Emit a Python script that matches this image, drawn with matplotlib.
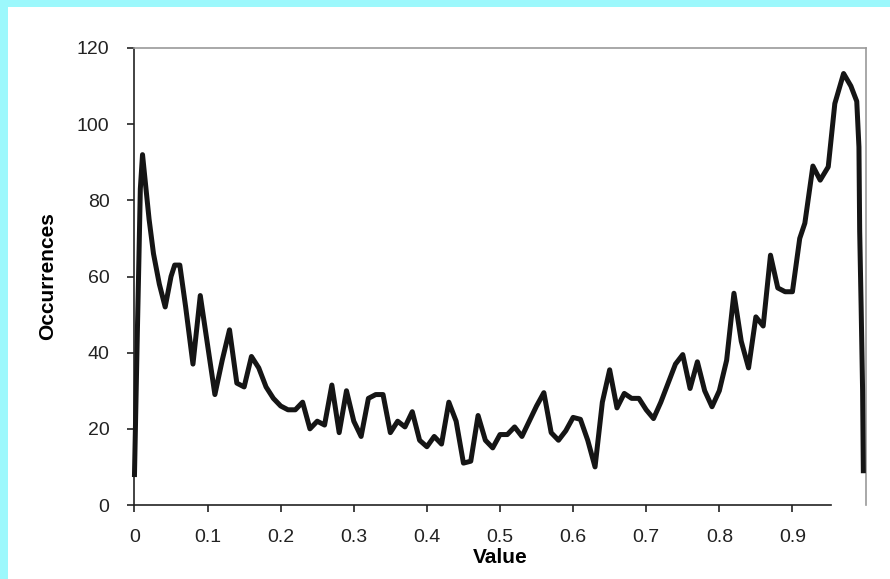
import matplotlib
matplotlib.use("Agg")
import matplotlib.pyplot as plt
from matplotlib.patches import Rectangle

# histogram of values
value = [
    0.000, 0.002, 0.004, 0.006, 0.008, 0.011, 0.020, 0.026, 0.034, 0.042,
    0.050, 0.055, 0.062, 0.070, 0.080, 0.090, 0.100, 0.110, 0.120, 0.130,
    0.140, 0.150, 0.160, 0.170, 0.180, 0.190, 0.200, 0.210, 0.220, 0.230,
    0.240, 0.250, 0.260, 0.270, 0.280, 0.290, 0.300, 0.310, 0.320, 0.330,
    0.340, 0.350, 0.360, 0.370, 0.380, 0.390, 0.400, 0.410, 0.420, 0.430,
    0.440, 0.450, 0.460, 0.470, 0.480, 0.490, 0.500, 0.510, 0.520, 0.530,
    0.540, 0.550, 0.560, 0.570, 0.580, 0.590, 0.600, 0.610, 0.620, 0.630,
    0.640, 0.650, 0.660, 0.670, 0.680, 0.690, 0.700, 0.710, 0.720, 0.730,
    0.740, 0.750, 0.760, 0.770, 0.780, 0.790, 0.800, 0.810, 0.820, 0.830,
    0.840, 0.850, 0.860, 0.870, 0.880, 0.890, 0.900, 0.910, 0.917, 0.928,
    0.938, 0.949, 0.958, 0.970, 0.980, 0.988, 0.991, 0.992, 0.994, 0.996,
    0.997,
]
occurrences = [
    8, 27, 46, 64, 83, 92, 75, 66, 58, 52,
    60, 63, 63, 52, 37, 55, 42, 29, 38, 46,
    32, 31, 39, 36, 31, 28, 26, 25, 25, 27,
    20, 22, 21, 31.5, 19, 30, 22, 18, 28, 29,
    29, 19, 22, 20.5, 24.5, 17, 15.3, 18, 16, 27,
    22, 11, 11.5, 23.5, 17, 15, 18.5, 18.5, 20.5, 18,
    22, 26, 29.5, 19, 17, 19.5, 23, 22.5, 17, 10,
    27, 35.5, 25.5, 29.3, 28, 28, 25, 22.7, 27, 32,
    37, 39.5, 30.6, 37.6, 30, 25.8, 30, 38, 55.6, 43,
    36, 49.4, 47, 65.6, 57, 56, 56, 70, 74, 89,
    85.3, 88.8, 105.4, 113.3, 110, 106, 94, 72, 52, 30,
    9,
]
x_ticks = [0, 0.1, 0.2, 0.3, 0.4, 0.5, 0.6, 0.7, 0.8, 0.9]
x_tick_labels = ["0", "0.1", "0.2", "0.3", "0.4", "0.5", "0.6", "0.7", "0.8", "0.9"]
y_ticks = [0, 20, 40, 60, 80, 100, 120]

plt.rcParams["font.family"] = ["Liberation Sans Narrow", "Liberation Sans", "DejaVu Sans"]

fig = plt.figure(figsize=(8.9, 5.79), dpi=100)
fig.patch.set_facecolor("white")

# cyan page edge on the left and top
fig.patches.append(Rectangle((0, 0), 8 / 890, 1, transform=fig.transFigure,
                             facecolor="#9cf8fc", edgecolor="none", zorder=0))
fig.patches.append(Rectangle((0, 1 - 7 / 579), 1, 7 / 579, transform=fig.transFigure,
                             facecolor="#9cf8fc", edgecolor="none", zorder=0))

ax = fig.add_axes([0.1511, 0.1278, 0.9725 - 0.1511, 0.9171 - 0.1278])
ax.plot(value, occurrences, color="#151515", linewidth=3.6,
        solid_joinstyle="round", clip_on=False, zorder=3)

ax.set_xlim(0, 1.0)
ax.set_ylim(0, 120)
ax.set_xticks(x_ticks)
ax.set_xticklabels(x_tick_labels)
ax.set_yticks(y_ticks)

for side in ["top", "right"]:
    ax.spines[side].set_color("#9a9a9a")
    ax.spines[side].set_linewidth(1.2)
for side in ["left", "bottom"]:
    ax.spines[side].set_color("#222222")
    ax.spines[side].set_linewidth(1.2)
ax.spines["bottom"].set_bounds(0, 0.953)

ax.tick_params(axis="both", direction="out", length=5, width=1.2, color="#222222",
               labelsize=14, labelcolor="#222222")
ax.tick_params(axis="y", pad=13)
ax.tick_params(axis="x", pad=12)

ax.set_xlabel("Value", fontsize=15, fontweight="bold", labelpad=2)
ax.set_ylabel("Occurrences", fontsize=15, fontweight="bold", labelpad=14)

fig.savefig("out.png", dpi=100)
